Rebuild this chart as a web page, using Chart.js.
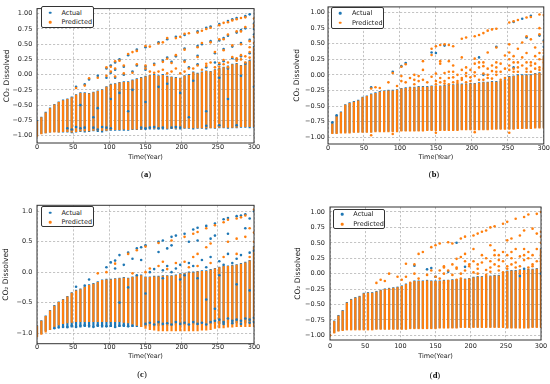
<!DOCTYPE html>
<html><head><meta charset="utf-8">
<script src="https://cdn.jsdelivr.net/npm/chart.js@4.4.1/dist/chart.umd.min.js"></script>
<style>
html,body{margin:0;padding:0;background:#fff;width:550px;height:384px;overflow:hidden;position:relative;font-family:"DejaVu Sans",sans-serif}
.pane{position:absolute;width:275px;height:192px}
.legend{position:absolute;border:1.2px solid #333;border-radius:2px;background:#fff;box-sizing:border-box;z-index:2}
.lrow{position:absolute;font-size:6.5px;color:#222;white-space:nowrap;line-height:8px;transform:translateY(-50%);z-index:3}
.ldot{position:absolute;width:2.6px;height:2.6px;border-radius:50%;transform:translate(-50%,-50%);z-index:3}
.cap{position:absolute;font-family:"Liberation Serif",serif;font-size:8.5px;color:#000;transform:translate(-50%,-50%);white-space:nowrap}
</style></head>
<body>
<script>
// ---------------- data ----------------
const xTicks = [0, 50, 100, 150, 200, 250, 300];
const yTicksQuarter = [-1, -0.75, -0.5, -0.25, 0, 0.25, 0.5, 0.75, 1];
const yTicksHalf = [-1, -0.5, 0, 0.5, 1];

const yearsAC = [0,6,12,18,24,30,36,42,48,54,60,66,72,78,84,90,96,102,108,114,120,126,132,138,144,150,156,162,168,174,180,186,192,198,204,210,216,222,228,234,240,246,252,258,264,270,276,282,288,294,300];
const yearsBD = [6,12,18,24,30,36,42,48,54,60,66,72,78,84,90,96,102,108,114,120,126,132,138,144,150,156,162,168,174,180,186,192,198,204,210,216,222,228,234,240,246,252,258,264,270,276,282,288,294,300];

// (a)
const aActLow  = [-1.00,-0.97,-0.96,-0.95,-0.94,-0.95,-0.95,-0.95,-0.96,-0.95,-0.94,-0.95,-0.94,-0.93,-0.94,-0.95,-0.93,-0.92,-0.92,-0.92,-0.92,-0.92,-0.91,-0.91,-0.91,-0.91,-0.90,-0.90,-0.90,-0.90,-0.90,-0.89,-0.90,-0.90,-0.89,-0.89,-0.90,-0.89,-0.89,-0.90,-0.88,-0.89,-0.88,-0.88,-0.89,-0.88,-0.88,-0.87,-0.87,-0.88,-0.87];
const aActHigh = [-0.74,-0.69,-0.61,-0.54,-0.48,-0.44,-0.41,-0.39,-0.36,-0.32,-0.29,-0.29,-0.30,-0.28,-0.26,-0.24,-0.19,-0.15,-0.14,-0.12,-0.11,-0.11,-0.08,-0.06,-0.04,-0.02,0.00,0.01,-0.01,0.01,-0.02,-0.03,-0.04,-0.05,-0.01,0.01,0.05,0.03,0.05,0.07,0.06,0.09,0.11,0.13,0.15,0.18,0.19,0.16,0.21,0.24,0.47];
const aPredLow  = [-1.02,-0.98,-0.96,-0.95,-0.95,-0.95,-0.94,-0.94,-0.95,-0.94,-0.93,-0.93,-0.93,-0.92,-0.92,-0.92,-0.92,-0.91,-0.91,-0.91,-0.90,-0.91,-0.90,-0.90,-0.90,-0.89,-0.89,-0.89,-0.89,-0.89,-0.89,-0.89,-0.89,-0.89,-0.88,-0.88,-0.88,-0.88,-0.88,-0.88,-0.88,-0.88,-0.87,-0.87,-0.87,-0.87,-0.87,-0.86,-0.86,-0.86,-0.86];
const aPredHigh = [-0.76,-0.70,-0.62,-0.55,-0.49,-0.45,-0.42,-0.40,-0.37,-0.33,-0.30,-0.30,-0.31,-0.29,-0.27,-0.25,-0.20,-0.16,-0.15,-0.13,-0.12,-0.12,-0.09,-0.07,-0.05,-0.03,-0.01,0.00,-0.02,0.00,-0.03,-0.04,-0.05,-0.06,-0.02,0.00,0.04,0.02,0.04,0.06,0.05,0.08,0.10,0.12,0.14,0.17,0.18,0.15,0.20,0.23,0.45];
const aActualPts = [[54,-0.2],[66,-0.16],[72,-0.08],[84,-0.02],[96,0.1],[102,0.15],[108,0.2],[114,0.25],[126,0.32],[138,0.41],[150,0.45],[168,0.53],[180,0.58],[192,0.62],[204,0.65],[222,0.71],[234,0.77],[240,0.79],[252,0.83],[264,0.88],[270,0.91],[276,0.93],[288,0.96],[294,0.99],
 [96,-0.05],[102,0.03],[108,0.08],[120,0.13],[138,0.15],[150,0.13],[162,0.18],[174,0.23],[180,0.28],[192,0.3],[204,0.43],[222,0.47],[228,0.5],[240,0.55],[252,0.56],[258,0.6],[264,0.64],[276,0.69],[282,0.73],[288,0.76],[300,0.84],
 [108,-0.05],[120,0.0],[132,0.05],[150,0.08],[186,0.21],[204,0.23],[222,0.31],[246,0.35],[258,0.42],[270,0.46],[282,0.52],[294,0.57],
 [222,0.17],[234,0.12],[252,0.17],[258,0.22],[264,0.1],[276,0.25],[282,0.3],[294,0.35],[300,0.66],[300,0.75],[288,0.18],[270,0.27],[246,0.2],[210,0.12],
 [42,-0.88],[48,-0.9],[54,-0.86],[60,-0.88],[66,-0.87],[78,-0.87],[84,-0.9],[90,-0.86],[96,-0.87],[102,-0.88],[144,-0.87],[150,-0.88],[156,-0.87],[162,-0.86],[168,-0.88],[174,-0.87],[186,-0.87],[192,-0.86],[198,-0.87],[234,-0.84],[252,-0.83],[276,-0.83],
 [60,-0.5],[84,-0.55],[102,-0.4],[114,-0.3],[132,-0.25],[150,-0.45],[168,-0.2],[180,-0.15],[198,-0.3],[216,-0.1],[234,-0.6],[252,-0.05],[264,-0.4],[282,-0.02],[300,-0.2],[78,-0.7],[126,-0.6],[210,-0.7]];
const aPredPts = [[54,-0.22],[66,-0.18],[72,-0.06],[84,-0.05],[96,0.12],[102,0.13],[108,0.22],[114,0.23],[126,0.34],[132,0.37],[138,0.39],[150,0.47],[156,0.46],[168,0.51],[174,0.53],[180,0.6],[192,0.6],[198,0.62],[204,0.67],[210,0.68],[222,0.69],[228,0.72],[234,0.75],[240,0.77],[252,0.81],[258,0.85],[264,0.86],[270,0.89],[276,0.91],[282,0.93],[288,0.94],[300,0.92],
 [96,-0.02],[102,0.05],[108,0.1],[120,0.15],[138,0.17],[150,0.15],[162,0.16],[174,0.21],[180,0.26],[192,0.32],[204,0.41],[222,0.45],[228,0.52],[240,0.53],[252,0.58],[258,0.58],[264,0.66],[276,0.71],[282,0.71],[288,0.78],[300,0.82],
 [108,-0.03],[120,0.02],[132,0.03],[150,0.1],[186,0.19],[204,0.21],[222,0.29],[246,0.37],[258,0.4],[270,0.48],[282,0.5],[294,0.55],
 [174,0.08],[192,0.1],[210,0.1],[222,0.15],[234,0.14],[240,0.2],[252,0.19],[258,0.24],[264,0.12],[276,0.27],[282,0.32],[294,0.37],[300,0.62],[300,0.78],[288,0.2],[270,0.29],[294,0.28],[294,0.45],
 [156,0.05],[162,0.03],[168,0.05],[180,0.02],[186,0.05],[198,0.02],[204,0.05],[216,0.1],[228,0.08],[234,0.18],[246,0.12],[252,0.13],[258,0.17],[264,0.2],[276,0.23],[282,0.25],[288,0.3],[300,0.52]];

// (b)
const bActLow  = [-0.94,-0.94,-0.93,-0.93,-0.93,-0.92,-0.92,-0.92,-0.92,-0.92,-0.91,-0.91,-0.91,-0.91,-0.91,-0.91,-0.90,-0.90,-0.90,-0.90,-0.90,-0.90,-0.89,-0.89,-0.89,-0.89,-0.89,-0.89,-0.89,-0.89,-0.88,-0.88,-0.88,-0.88,-0.88,-0.88,-0.88,-0.87,-0.87,-0.87,-0.87,-0.87,-0.87,-0.86,-0.86,-0.86,-0.86,-0.85,-0.85,-0.85];
const bActHigh = [-0.76,-0.65,-0.59,-0.47,-0.44,-0.42,-0.40,-0.35,-0.33,-0.30,-0.28,-0.26,-0.25,-0.24,-0.24,-0.23,-0.21,-0.20,-0.19,-0.19,-0.18,-0.18,-0.18,-0.17,-0.17,-0.17,-0.16,-0.16,-0.15,-0.14,-0.14,-0.14,-0.13,-0.13,-0.12,-0.11,-0.11,-0.10,-0.10,-0.09,-0.07,-0.02,-0.01,0.01,0.01,0.01,0.01,0.03,0.04,0.31];
const bPredLow  = [-0.95,-0.95,-0.94,-0.94,-0.94,-0.93,-0.93,-0.93,-0.93,-0.93,-0.92,-0.92,-0.92,-0.92,-0.92,-0.92,-0.91,-0.91,-0.91,-0.91,-0.91,-0.91,-0.90,-0.90,-0.90,-0.90,-0.90,-0.90,-0.90,-0.90,-0.89,-0.89,-0.89,-0.89,-0.89,-0.89,-0.89,-0.88,-0.88,-0.88,-0.88,-0.88,-0.88,-0.87,-0.87,-0.87,-0.87,-0.86,-0.86,-0.86];
const bPredHigh = [-0.78,-0.66,-0.60,-0.48,-0.45,-0.43,-0.41,-0.36,-0.34,-0.31,-0.29,-0.27,-0.26,-0.25,-0.25,-0.24,-0.22,-0.21,-0.20,-0.20,-0.19,-0.19,-0.19,-0.18,-0.18,-0.18,-0.17,-0.17,-0.16,-0.15,-0.15,-0.15,-0.14,-0.14,-0.13,-0.12,-0.12,-0.11,-0.11,-0.10,-0.08,-0.03,-0.02,0.00,0.00,0.00,0.00,0.02,0.03,0.30];
const bActualPts = [[6,-0.76],[12,-0.65],[60,-0.2],[90,0.05],[102,0.14],[108,0.19],[144,0.36],[150,0.35],[210,0.28],[234,0.45],[258,0.85],[270,0.9],[282,0.95],[276,0.6],[294,0.63],[300,0.55],[300,0.45],[162,0.47],[216,0.0],[258,0.12]];
const bPredPts = [[60,-0.22],[66,-0.2],[72,-0.21],[84,-0.12],[90,0.03],[102,0.13],[108,0.17],[120,0.0],[132,0.22],[144,0.42],[150,0.46],[156,0.48],[162,0.49],[168,0.48],[174,0.46],[186,0.58],[192,0.6],[204,0.62],[210,0.64],[216,0.67],[222,0.71],[228,0.73],[234,0.74],[252,0.84],[258,0.86],[264,0.88],[276,0.92],[282,0.93],[294,0.97],[300,0.96],
 [144,0.32],[156,0.22],[186,0.28],[204,0.26],[210,0.2],[222,0.36],[234,0.44],[252,0.49],[270,0.52],[276,0.62],[282,0.57],[294,0.65],[294,0.75],[300,0.53],
 [120,-0.08],[132,0.08],[156,0.18],[168,0.22],[174,0.15],[186,0.08],[192,0.12],[204,0.18],[216,0.14],[228,0.15],[234,0.2],[246,0.31],[252,0.36],[264,0.42],[288,0.44],[300,0.4],
 [96,-0.18],[102,-0.1],[102,-0.02],[108,-0.12],[114,-0.05],[120,-0.15],[126,-0.1],[126,-0.02],[132,-0.08],[138,-0.12],[144,-0.03],[150,-0.1],[150,0.02],[156,-0.05],[162,-0.1],[168,0.05],[174,-0.04],[180,0.0],[180,-0.1],[186,-0.08],[192,0.03],[198,-0.04],[204,0.04],[210,-0.08],[216,0.02],[222,-0.05],[228,0.06],[234,0.0],[240,0.05],[246,-0.05],[252,0.08],[258,0.1],[258,0.2],[264,0.12],[270,0.15],[276,0.05],[282,0.2],[288,0.1],[294,0.25],[294,0.12],[300,0.35],[300,0.2],
 [60,-0.97],[90,-0.95],[150,-0.93],[204,-0.92],[252,-0.93],
 [150,-0.15],[156,-0.12],[162,-0.14],[162,0.03],[168,-0.15],[168,-0.05],[174,-0.12],[174,0.05],[180,-0.13],[186,-0.05],[192,-0.12],[192,-0.02],[198,-0.1],[198,0.08],[204,-0.02],[210,0.12],[216,-0.08],[216,0.2],[222,0.0],[222,0.1],[228,-0.06],[234,0.05],[234,0.12],[240,-0.08],[240,0.18],[246,0.1],[252,0.15],[252,0.25],[258,0.05],[258,0.3],[264,0.05],[264,0.2],[270,0.28],[276,0.1],[276,0.2],[276,0.35],[282,0.05],[282,0.15],[288,0.3],[288,0.18],[294,0.08],[294,0.35],[300,0.1],[300,0.25]];

// (c)
const cActLow  = [-1.06,-1.01,-0.97,-0.95,-0.93,-0.91,-0.91,-0.92,-0.91,-0.90,-0.91,-0.90,-0.91,-0.90,-0.90,-0.91,-0.90,-0.90,-0.91,-0.90,-0.90,-0.90,-0.90,-0.90,-0.90,-0.89,-0.89,-0.89,-0.88,-0.88,-0.88,-0.88,-0.87,-0.87,-0.87,-0.87,-0.86,-0.86,-0.86,-0.86,-0.85,-0.85,-0.85,-0.84,-0.84,-0.84,-0.84,-0.84,-0.84,-0.83,-0.82];
const cActHigh = [-0.87,-0.79,-0.71,-0.62,-0.54,-0.48,-0.44,-0.39,-0.33,-0.29,-0.27,-0.23,-0.20,-0.18,-0.15,-0.12,-0.11,-0.11,-0.10,-0.09,-0.08,-0.09,-0.07,-0.05,-0.04,-0.07,-0.07,-0.06,-0.06,-0.05,-0.05,-0.05,-0.04,-0.02,-0.01,0.01,0.01,0.02,0.03,0.03,0.05,0.07,0.09,0.11,0.11,0.12,0.13,0.15,0.17,0.20,0.43];
const cPredLow  = [-1.07,-1.03,-0.99,-0.95,-0.91,-0.87,-0.85,-0.84,-0.83,-0.82,-0.82,-0.82,-0.82,-0.82,-0.82,-0.82,-0.82,-0.82,-0.82,-0.82,-0.83,-0.84,-0.86,-0.88,-0.90,-0.93,-0.95,-0.96,-0.97,-0.97,-0.97,-0.97,-0.97,-0.97,-0.97,-0.97,-0.97,-0.97,-0.96,-0.96,-0.95,-0.93,-0.92,-0.92,-0.91,-0.91,-0.90,-0.90,-0.90,-0.90,-0.90];
const cPredHigh = [-0.88,-0.80,-0.72,-0.63,-0.55,-0.49,-0.45,-0.40,-0.34,-0.30,-0.28,-0.24,-0.21,-0.19,-0.16,-0.13,-0.12,-0.12,-0.11,-0.10,-0.09,-0.10,-0.08,-0.06,-0.05,-0.08,-0.08,-0.07,-0.07,-0.06,-0.06,-0.06,-0.05,-0.03,-0.02,0.00,0.00,0.01,0.02,0.02,0.04,0.06,0.08,0.10,0.10,0.11,0.12,0.14,0.16,0.19,0.42];
const cActualPts = [[54,-0.24],[66,-0.22],[72,-0.12],[96,0.08],[102,0.16],[108,0.19],[114,0.28],[126,0.32],[138,0.39],[144,0.41],[150,0.44],[168,0.5],[174,0.52],[186,0.58],[192,0.6],[204,0.63],[216,0.7],[222,0.73],[234,0.76],[246,0.8],[258,0.87],[264,0.89],[276,0.92],[282,0.93],[288,0.95],[300,1.0],
 [108,0.06],[120,0.12],[132,0.22],[144,0.2],[168,0.33],[180,0.39],[186,0.44],[210,0.5],[222,0.52],[240,0.55],[246,0.6],[264,0.63],[288,0.72],[294,0.88],
 [24,-0.92],[30,-0.91],[36,-0.9],[42,-0.9],[48,-0.88],[54,-0.9],[60,-0.88],[66,-0.87],[72,-0.88],[78,-0.9],[84,-0.87],[90,-0.88],[96,-0.89],[102,-0.88],[108,-0.9],[114,-0.88],[120,-0.87],[126,-0.89],[132,-0.88],
 [150,-0.85],[156,-0.83],[162,-0.86],[168,-0.82],[174,-0.85],[180,-0.84],[186,-0.86],[192,-0.82],[198,-0.85],[204,-0.83],[210,-0.86],[216,-0.82],[222,-0.85],[228,-0.83],[234,-0.86],[240,-0.82],[246,-0.8],[252,-0.78],[258,-0.82],[264,-0.76],[270,-0.8],[276,-0.78],[282,-0.8],[288,-0.76],[294,-0.78],[300,-0.75],[258,-0.85],[270,-0.84],[282,-0.85],[294,-0.83],[300,-0.82],
 [138,-0.05],[156,0.0],[162,0.05],[174,0.03],[180,0.1],[192,0.06],[198,0.12],[210,0.15],[216,0.1],[228,0.2],[234,0.08],[240,0.25],[252,0.18],[258,0.12],[264,0.3],[276,0.22],[282,0.28],[294,0.32],[300,0.35],[174,-0.1],[198,-0.12],[222,-0.1],[252,-0.05],[276,-0.2],[294,-0.3],[234,-0.45],[246,-0.6],[150,-0.35],[126,-0.25],[114,-0.5],[186,0.0],[204,-0.05],[270,0.15]];
const cPredPts = [[84,-0.02],[96,0.0],[108,0.14],[126,0.3],[138,0.36],[150,0.42],[168,0.48],[186,0.52],[204,0.58],[216,0.63],[222,0.66],[234,0.72],[246,0.77],[258,0.82],[264,0.86],[276,0.88],[282,0.9],[288,0.93],[300,1.03],
 [156,0.06],[174,0.17],[204,0.17],[216,0.25],[222,0.3],[234,0.41],[240,0.47],[264,0.5],[276,0.55],[288,0.58],[294,0.72],[300,0.65],
 [132,-0.02],[150,0.0],[168,0.1],[180,0.05],[192,0.15],[210,0.08],[222,0.1],[240,0.15],[258,0.25],[276,0.3],[294,0.25],[300,0.5]];

// (d)
const dActLow  = [-0.96,-0.93,-0.92,-0.91,-0.91,-0.91,-0.91,-0.91,-0.91,-0.91,-0.90,-0.90,-0.90,-0.90,-0.90,-0.90,-0.90,-0.90,-0.89,-0.89,-0.89,-0.89,-0.89,-0.89,-0.89,-0.88,-0.88,-0.88,-0.88,-0.88,-0.87,-0.87,-0.87,-0.87,-0.87,-0.87,-0.87,-0.87,-0.87,-0.87,-0.87,-0.88,-0.88,-0.88,-0.88,-0.88,-0.88,-0.87,-0.87,-0.87];
const dActHigh = [-0.76,-0.67,-0.59,-0.46,-0.41,-0.38,-0.36,-0.31,-0.30,-0.30,-0.28,-0.26,-0.24,-0.23,-0.22,-0.21,-0.19,-0.16,-0.14,-0.11,-0.11,-0.11,-0.10,-0.11,-0.11,-0.11,-0.10,-0.10,-0.09,-0.09,-0.09,-0.08,-0.07,-0.05,-0.04,-0.04,-0.03,-0.03,-0.02,-0.02,0.03,0.05,0.06,0.06,0.07,0.07,0.08,0.08,0.09,0.41];
const dPredLow  = [-0.97,-0.94,-0.93,-0.92,-0.92,-0.92,-0.92,-0.92,-0.92,-0.92,-0.91,-0.91,-0.91,-0.91,-0.91,-0.91,-0.91,-0.91,-0.90,-0.90,-0.90,-0.90,-0.90,-0.90,-0.90,-0.89,-0.89,-0.89,-0.89,-0.89,-0.88,-0.88,-0.88,-0.88,-0.88,-0.88,-0.88,-0.88,-0.88,-0.88,-0.88,-0.89,-0.89,-0.89,-0.89,-0.89,-0.89,-0.88,-0.88,-0.88];
const dPredHigh = [-0.77,-0.68,-0.60,-0.47,-0.42,-0.39,-0.37,-0.32,-0.31,-0.31,-0.29,-0.27,-0.25,-0.24,-0.23,-0.22,-0.20,-0.17,-0.15,-0.12,-0.12,-0.12,-0.11,-0.12,-0.12,-0.12,-0.11,-0.11,-0.10,-0.10,-0.10,-0.09,-0.08,-0.06,-0.05,-0.05,-0.04,-0.04,-0.03,-0.03,0.02,0.04,0.05,0.05,0.06,0.06,0.07,0.07,0.08,0.40];
const dActualPts = [[120,0.13],[138,0.07],[168,0.03],[180,0.5],[192,0.11],[276,0.08],[300,0.0],[144,0.09],[150,-0.05],[270,-0.04]];
const dPredPts = [[66,-0.15],[72,-0.1],[84,0.0],[108,0.16],[126,0.32],[132,0.35],[144,0.43],[150,0.46],[156,0.49],[168,0.51],[174,0.49],[186,0.57],[192,0.6],[204,0.62],[210,0.65],[216,0.68],[222,0.7],[228,0.75],[234,0.77],[246,0.81],[252,0.84],[264,0.89],[276,0.92],[282,0.96],[294,0.97],[300,1.0],
 [120,0.15],[162,0.1],[180,0.24],[186,0.27],[192,0.32],[204,0.4],[228,0.46],[234,0.38],[252,0.54],[258,0.57],[270,0.62],[276,0.7],[288,0.73],[294,0.65],[300,0.68],
 [102,-0.1],[108,-0.05],[114,-0.15],[120,0.0],[126,-0.08],[138,-0.02],[144,0.05],[150,-0.05],[162,0.0],[156,-0.08],[168,0.05],[174,-0.02],[180,0.1],[186,0.0],[192,0.05],[198,0.12],[204,0.02],[210,0.08],[216,0.18],[222,0.06],[228,0.1],[234,0.15],[240,0.22],[240,0.12],[246,0.2],[252,0.12],[258,0.25],[258,0.15],[264,0.18],[270,0.28],[276,0.22],[276,0.3],[282,0.25],[288,0.15],[288,0.3],[294,0.2],[300,0.5],[300,0.3],
 [0,-1.0],[78,-0.12],[96,-0.05],
 [150,-0.18],[156,0.05],[162,-0.15],[162,0.12],[168,-0.12],[174,0.15],[180,-0.1],[180,0.08],[186,-0.08],[192,0.2],[198,-0.1],[198,0.15],[204,0.2],[210,0.0],[210,0.15],[216,0.3],[222,-0.02],[222,0.25],[228,0.03],[228,0.2],[234,0.3],[240,0.05],[240,0.3],[246,0.02],[246,0.35],[252,0.08],[252,0.3],[258,0.35],[264,0.1],[264,0.4],[270,0.12],[276,0.4],[282,0.1],[282,0.35],[288,0.12],[294,0.4],[300,0.2],[300,0.6]];

// ---------------- drawing ----------------
const BLUE = '#1f77b4', ORANGE = '#ff7f0e';
function strips(xs, lo, hi) { return xs.map((x, i) => ({x: x, y: [lo[i], hi[i]]})); }
function pts(arr) { return arr.map(p => ({x: p[0], y: p[1]})); }
function fmt(v, d) { const s = Math.abs(v).toFixed(d); return (v < -1e-9 ? '\u2212' : '') + s; }

const framePlugin = {
  id: 'frame',
  afterDatasetsDraw(chart) {
    const a = chart.chartArea, ctx = chart.ctx;
    ctx.save(); ctx.strokeStyle = '#333'; ctx.lineWidth = 1;
    ctx.strokeRect(a.left, a.top, a.right - a.left, a.bottom - a.top);
    ctx.restore();
  }
};

const panels = [
  {key:'a', left:0, top:0, area:{l:37,r:254,t:4,b:143}, padL:0, yMin:-1.122, yMax:1.084, yTicks:yTicksQuarter, dec:2,
   xH:22, xTickPad:0, xTitlePad:3.4, yTickPad:4.7, yTitlePad:2.5,
   years:yearsAC, actLow:aActLow, actHigh:aActHigh, predLow:aPredLow, predHigh:aPredHigh, act:aActualPts, pred:aPredPts,
   leg:{l:41,t:6,w:53,h:22,mx:50,tx:61.5,r1:12.7,r2:22.3}, cap:{x:146,y:174}},
  {key:'b', left:275, top:0, area:{l:53,r:269,t:3.5,b:144}, padL:15, yMin:-1.11, yMax:1.091, yTicks:yTicksQuarter, dec:2,
   xH:22, xTickPad:0, xTitlePad:5.1, yTickPad:3, yTitlePad:2.2,
   years:yearsBD, actLow:bActLow, actHigh:bActHigh, predLow:bPredLow, predHigh:bPredHigh, act:bActualPts, pred:bPredPts,
   leg:{l:331,t:6.7,w:53,h:22.3,mx:340,tx:352,r1:13.3,r2:22.7}, cap:{x:434,y:174}},
  {key:'c', left:0, top:192, area:{l:37,r:254,t:13.3,b:151.7}, padL:0, yMin:-1.175, yMax:1.098, yTicks:yTicksHalf, dec:1,
   xH:20, xTickPad:0, xTitlePad:3.5, yTickPad:4.7, yTitlePad:1.5,
   years:yearsAC, actLow:cActLow, actHigh:cActHigh, predLow:cPredLow, predHigh:cPredHigh, act:cActualPts, pred:cPredPts,
   leg:{l:40.7,t:206.3,w:53.6,h:21,mx:50,tx:61.5,r1:212.7,r2:222}, cap:{x:142,y:374}},
  {key:'d', left:275, top:192, area:{l:55,r:266,t:15,b:148}, padL:15, yMin:-1.076, yMax:1.081, yTicks:yTicksQuarter, dec:2,
   xH:20, xTickPad:2, xTitlePad:0.1, yTickPad:5, yTitlePad:3.8,
   years:yearsBD, actLow:dActLow, actHigh:dActHigh, predLow:dPredLow, predHigh:dPredHigh, act:dActualPts, pred:dPredPts,
   leg:{l:333.3,t:208.7,w:51.7,h:20.6,mx:342.3,tx:353.3,r1:214.3,r2:224}, cap:{x:435,y:375}}
];

const FONT = 'DejaVu Sans';
panels.forEach(p => {
  const div = document.createElement('div');
  div.className = 'pane';
  div.style.left = p.left + 'px'; div.style.top = p.top + 'px';
  const cv = document.createElement('canvas');
  cv.width = 275; cv.height = 192;
  cv.style.width = '275px'; cv.style.height = '192px';
  div.appendChild(cv);
  document.body.appendChild(div);

  const A = p.area;
  new Chart(cv, {
    type: 'scatter',
    data: {
      datasets: [
        {type:'bar', label:'Actual', data: strips(p.years, p.actLow, p.actHigh), backgroundColor: BLUE,
         barThickness: 2.2, grouped: false, borderWidth: 0, inflateAmount: 0, order: 5},
        {type:'bar', label:'Predicted', data: strips(p.years, p.predLow, p.predHigh), backgroundColor: ORANGE,
         barThickness: 2.2, grouped: false, borderWidth: 0, inflateAmount: 0, order: 4},
        {type:'scatter', label:'Actual', data: pts(p.act), backgroundColor: BLUE, pointRadius: 1.3, borderWidth: 0, order: 3},
        {type:'scatter', label:'Predicted', data: pts(p.pred), backgroundColor: ORANGE, pointRadius: 1.3, borderWidth: 0, order: 2}
      ]
    },
    options: {
      responsive: false, animation: false, events: [],
      layout: {padding: {left: p.padL, right: 275 - A.r, top: A.t, bottom: 192 - A.b - p.xH}},
      plugins: {legend: {display: false}, tooltip: {enabled: false}},
      scales: {
        x: {
          type: 'linear', min: 0, max: 300, offset: false, bounds: 'data',
          afterFit: s => { s.height = p.xH; },
          afterBuildTicks: s => { s.ticks = xTicks.map(v => ({value: v})); },
          ticks: {autoSkip: false, maxRotation: 0, padding: p.xTickPad, color: '#222',
                  font: {family: FONT, size: 6.5}, callback: v => String(v)},
          grid: {color: '#b5b5b5', lineWidth: 0.8, drawTicks: false, offset: false},
          border: {display: false, dash: [2.2, 1.8]},
          title: {display: true, text: 'Time(Year)', color: '#222', font: {family: FONT, size: 6.5},
                  padding: {top: 0, bottom: p.xTitlePad}}
        },
        y: {
          type: 'linear', min: p.yMin, max: p.yMax, beginAtZero: false, offset: false,
          afterFit: s => { s.width = A.l - p.padL; },
          afterBuildTicks: s => { s.ticks = p.yTicks.map(v => ({value: v})); },
          ticks: {autoSkip: false, padding: p.yTickPad, color: '#222',
                  font: {family: FONT, size: 6.5}, callback: v => fmt(v, p.dec)},
          grid: {color: '#b5b5b5', lineWidth: 0.8, drawTicks: false},
          border: {display: false, dash: [2.2, 1.8]},
          title: {display: true, text: 'CO\u2082 Dissolved', color: '#222', font: {family: FONT, size: 7.5},
                  padding: {top: p.yTitlePad, bottom: 0}}
        }
      }
    },
    plugins: [framePlugin]
  });

  // legend (HTML, absolute page coords)
  const L = p.leg;
  const box = document.createElement('div');
  box.className = 'legend';
  box.style.left = L.l + 'px'; box.style.top = L.t + 'px';
  box.style.width = L.w + 'px'; box.style.height = L.h + 'px';
  document.body.appendChild(box);
  [['Actual', BLUE, L.r1], ['Predicted', ORANGE, L.r2]].forEach(([txt, col, ry]) => {
    const d = document.createElement('div');
    d.className = 'ldot'; d.style.background = col;
    d.style.left = L.mx + 'px'; d.style.top = ry + 'px';
    document.body.appendChild(d);
    const t = document.createElement('div');
    t.className = 'lrow'; t.textContent = txt;
    t.style.left = L.tx + 'px'; t.style.top = ry + 'px';
    document.body.appendChild(t);
  });

  const cap = document.createElement('div');
  cap.className = 'cap';
  cap.innerHTML = '(<b>' + p.key + '</b>)';
  cap.style.left = p.cap.x + 'px'; cap.style.top = p.cap.y + 'px';
  document.body.appendChild(cap);
});
</script>
</body></html>
